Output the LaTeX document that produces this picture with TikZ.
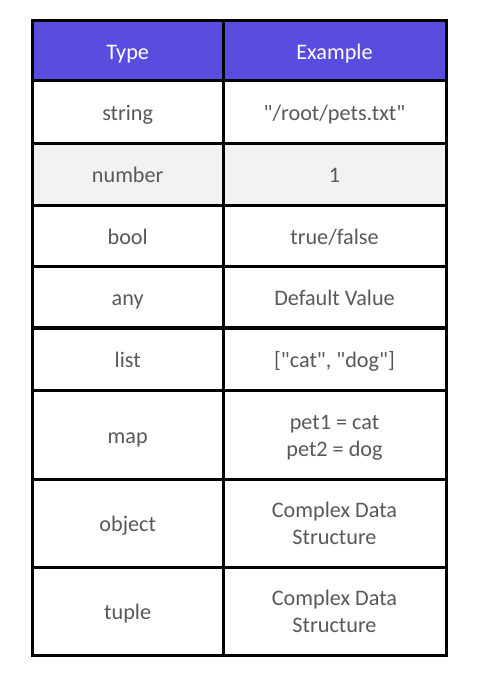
\documentclass[tikz,border=0pt]{standalone}
\usepackage{fontspec}
\setmainfont{Carlito}
\definecolor{hdr}{HTML}{5B4CE0}
\definecolor{txt}{HTML}{595959}
\definecolor{alt}{HTML}{F2F2F2}
\newcommand{\qq}{\textquotedbl}
\begin{document}
\begin{tikzpicture}[x=1pt,y=-1pt,
  cell/.style={font=\fontsize{22.2}{26.5}\selectfont, text=txt, inner sep=0pt, anchor=base},
  hcell/.style={cell, text=white},
  grid/.style={line width=3pt, black}]
\useasboundingbox (0,0) rectangle (486,686);
\fill[white] (0,0) rectangle (486,686);
% fills
\fill[hdr] (32.5,20.7) rectangle (446,80.7);
\fill[alt] (32.5,143.3) rectangle (446,205);
% texts (y = baselines)
\def\lx{127.7}\def\rx{334.5}
\node[hcell] (h1) at (\lx,59.3) {Type};
\node[hcell] (h2) at (\rx,59.3) {Example};
\node[cell] (a1) at (\lx,120.7) {string};
\node[cell] (a2) at (\rx,120.7) {\qq/root/pets.txt\qq};
\node[cell] (b1) at (\lx,182.8) {number};
\node[cell] (b2) at (\rx,182.8) {1};
\node[cell] (c1) at (\lx,244.2) {bool};
\node[cell] (c2) at (\rx,244.2) {true/false};
\node[cell] (d1) at (\lx,305.9) {any};
\node[cell] (d2) at (\rx,305.9) {Default Value};
\node[cell] (e1) at (\lx,367.9) {list};
\node[cell] (e2) at (\rx,367.9) {[\qq cat\qq, \qq dog\qq]};
\node[cell] (f1) at (\lx,443.2) {map};
\node[cell] (f2a) at (\rx,429.3) {pet1 = cat};
\node[cell] (f2b) at (\rx,456) {pet2 = dog};
\node[cell] (g1) at (\lx,531.5) {object};
\node[cell] (g2a) at (\rx,517.3) {Complex Data};
\node[cell] (g2b) at (\rx,544) {Structure};
\node[cell] (t1) at (\lx,619.5) {tuple};
\node[cell] (t2a) at (\rx,605.7) {Complex Data};
\node[cell] (t2b) at (\rx,632.3) {Structure};
% grid
\foreach \y in {80.7,143.3,205,266,390,479.3,567.3}
  \draw[grid] (32.5,\y) -- (446,\y);
\draw[grid, line width=4pt] (32.5,328.3) -- (446,328.3);
\draw[grid] (223,20.7) -- (223,655.7);
\draw[grid, line cap=rect] (32.5,20.7) rectangle (446,655.7);
\end{tikzpicture}
\end{document}
